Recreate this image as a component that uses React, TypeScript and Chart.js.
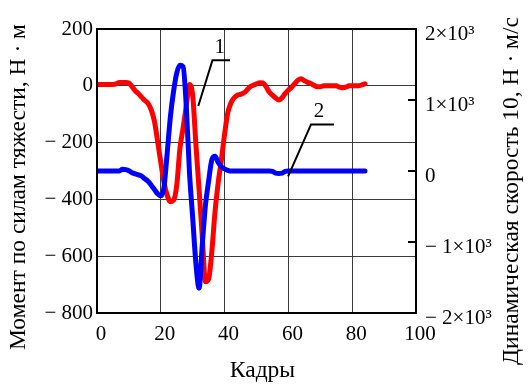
import React, { useEffect, useRef } from "react";
import { Chart, registerables } from "chart.js";

Chart.register(...registerables);

// Frame-by-frame values (frames 0..84)
const RED_MOMENT = [
  5, 5, 5, 5, 5, 5, 7, 12, 12, 12, 10,
  -3, -18, -28, -40, -52, -62, -85, -125, -195, -270,
  -340, -385, -408, -403, -350, -221, -148, -70, 5, -35,
  -206, -365, -530, -690, -680, -583, -443, -340, -260, -170,
  -95, -60, -42, -33, -30, -25, -15, -3, 2, 7,
  11, 10, -3, -22, -33, -43, -50, -42, -27, -15,
  -5, 8, 20, 25, 18, 12, 8, 2, -3, -3,
  0, 0, 0, 0, 0, -5, -7, -5, 0, 0,
  0, 0, 3, 7,
];

const BLUE_SPEED = [
  0, 0, 0, 0, 0, 0, 0, 0,
  25, 20, 5, -25, -40, -55, -73, -110, -144, -200, -260, -320, -350,
  -230, 250, 760, 1120, 1380, 1490, 1470, 900, -30, -660,
  -1300, -1650, -1040, -480, -140, 160, 208, 120, 60, 30,
  10, 0, 0, 0, 0, 0, 0, 0, 0, 0, 0, 0, 0, 0,
  -5, -30, -35, -30, -5,
  0, 0, 0, 0, 0, 0, 0, 0, 0, 0, 0, 0, 0, 0, 0, 0, 0, 0, 0, 0, 0, 0, 0, 0, 0,
];

const FRAMES = RED_MOMENT.map((_, i) => i);

// Callout leader lines (data coordinates on x / left y axis)
const LEADER_1 = [
  { x: 31.75, y: -71 },
  { x: 36.2, y: 90 },
  { x: 41.7, y: 90 },
];
const LEADER_2 = [
  { x: 59.9, y: -319 },
  { x: 67.1, y: -136 },
  { x: 74.3, y: -136 },
];
const CALLOUT_TEXTS = ["1", "2"];
const CALLOUT_X = [38.5, 69.6];
const CALLOUT_Y = [135, -90];

const X_TITLE = "Кадры";
const LEFT_TITLE = "Момент по силам тяжести, Н · м";
const RIGHT_TITLE = "Динамическая скорость 10, Н · м/с";

const RIGHT_TICK_LABELS: Record<string, string> = {
  "2000": "2×10³",
  "1000": "1×10³",
  "0": "0",
  "-1000": "− 1×10³",
  "-2000": "− 2×10³",
};

const FONT_FAMILY = "'Liberation Serif', 'Times New Roman', serif";

const decorPlugin = {
  id: "decor",
  afterDraw(chart: any) {
    const { ctx, chartArea, scales } = chart;
    const { left, right, top, bottom } = chartArea;
    ctx.save();
    // frame
    ctx.strokeStyle = "#000";
    ctx.lineWidth = 2;
    ctx.strokeRect(left, top, right - left, bottom - top);
    // inward ticks on the right axis
    const y1 = scales.y1;
    ctx.lineWidth = 2;
    y1.ticks.forEach((t: any) => {
      const py = Math.round(y1.getPixelForValue(t.value));
      ctx.beginPath();
      ctx.moveTo(right - 8, py);
      ctx.lineTo(right, py);
      ctx.stroke();
    });
    // callout numbers
    ctx.fillStyle = "#000";
    ctx.font = `21px ${FONT_FAMILY}`;
    ctx.textAlign = "center";
    ctx.textBaseline = "middle";
    CALLOUT_TEXTS.forEach((txt, i) => {
      ctx.fillText(txt, scales.x.getPixelForValue(CALLOUT_X[i]), scales.y.getPixelForValue(CALLOUT_Y[i]));
    });
    // axis titles
    ctx.font = `23.5px ${FONT_FAMILY}`;
    ctx.fillText(X_TITLE, (left + right) / 2 + 6, chart.height - 18);
    ctx.save();
    ctx.translate(19, (top + bottom) / 2 + 16);
    ctx.rotate(-Math.PI / 2);
    ctx.fillText(LEFT_TITLE, 0, 0);
    ctx.restore();
    ctx.save();
    ctx.translate(chart.width - 17, (top + bottom) / 2 + 20);
    ctx.rotate(-Math.PI / 2);
    ctx.fillText(RIGHT_TITLE, 0, 0);
    ctx.restore();
    ctx.restore();
  },
};

export default function App() {
  const ref = useRef<HTMLCanvasElement | null>(null);

  useEffect(() => {
    if (!ref.current) return;
    const tickFont = { family: FONT_FAMILY, size: 21 };
    const gridColor = "#3a3a3a";
    const chart = new Chart(ref.current, {
      type: "line",
      data: {
        datasets: [
          {
            label: "2",
            data: FRAMES.map((f, i) => ({ x: f, y: BLUE_SPEED[i] })),
            yAxisID: "y1",
            borderColor: "#0000ff",
            borderWidth: 5,
            pointRadius: 0,
            cubicInterpolationMode: "monotone",
            borderCapStyle: "round",
            borderJoinStyle: "round",
            order: 1,
          },
          {
            label: "1",
            data: FRAMES.map((f, i) => ({ x: f, y: RED_MOMENT[i] })),
            yAxisID: "y",
            borderColor: "#ff0000",
            borderWidth: 5,
            pointRadius: 0,
            cubicInterpolationMode: "monotone",
            borderCapStyle: "round",
            borderJoinStyle: "round",
            order: 2,
          },
          {
            label: "leader1",
            data: LEADER_1,
            yAxisID: "y",
            borderColor: "#000",
            borderWidth: 2,
            pointRadius: 0,
            tension: 0,
            order: 0,
          },
          {
            label: "leader2",
            data: LEADER_2,
            yAxisID: "y",
            borderColor: "#000",
            borderWidth: 2,
            pointRadius: 0,
            tension: 0,
            order: 0,
          },
        ],
      },
      options: {
        responsive: false,
        animation: false,
        devicePixelRatio: 1,
        layout: { padding: { top: 29, left: 0, right: 0, bottom: 0 } },
        plugins: { legend: { display: false }, tooltip: { enabled: false } },
        scales: {
          x: {
            type: "linear",
            position: "bottom",
            min: 0,
            max: 100,
            ticks: {
              stepSize: 20,
              font: tickFont,
              color: "#000",
              padding: 9,
              labelOffset: 4,
              maxRotation: 0,
              autoSkip: false,
            },
            grid: { color: gridColor, lineWidth: 1, drawTicks: false },
            border: { display: false },
            afterFit: (s: any) => {
              s.height = 76;
            },
          },
          y: {
            type: "linear",
            position: "left",
            min: -800,
            max: 200,
            ticks: {
              stepSize: 200,
              font: tickFont,
              color: "#000",
              padding: 4,
              callback: (v: any) => (v < 0 ? "− " + Math.abs(v) : String(v)),
            },
            grid: { color: gridColor, lineWidth: 1, drawTicks: false },
            border: { display: false },
            afterFit: (s: any) => {
              s.width = 97;
            },
          },
          y1: {
            type: "linear",
            position: "right",
            min: -2000,
            max: 2000,
            ticks: {
              stepSize: 1000,
              font: tickFont,
              color: "#000",
              padding: 9,
              labelOffset: 5,
              callback: (v: any) => RIGHT_TICK_LABELS[String(v)] ?? String(v),
            },
            grid: { display: false, drawTicks: false },
            border: { display: false },
            afterFit: (s: any) => {
              s.width = 113;
            },
          },
        },
      },
      plugins: [decorPlugin],
    } as any);
    return () => chart.destroy();
  }, []);

  return (
    <div style={{ position: "absolute", left: 0, top: 0, width: 529, height: 389, background: "#fff" }}>
      <canvas ref={ref} width={529} height={389} style={{ display: "block" }} />
    </div>
  );
}
